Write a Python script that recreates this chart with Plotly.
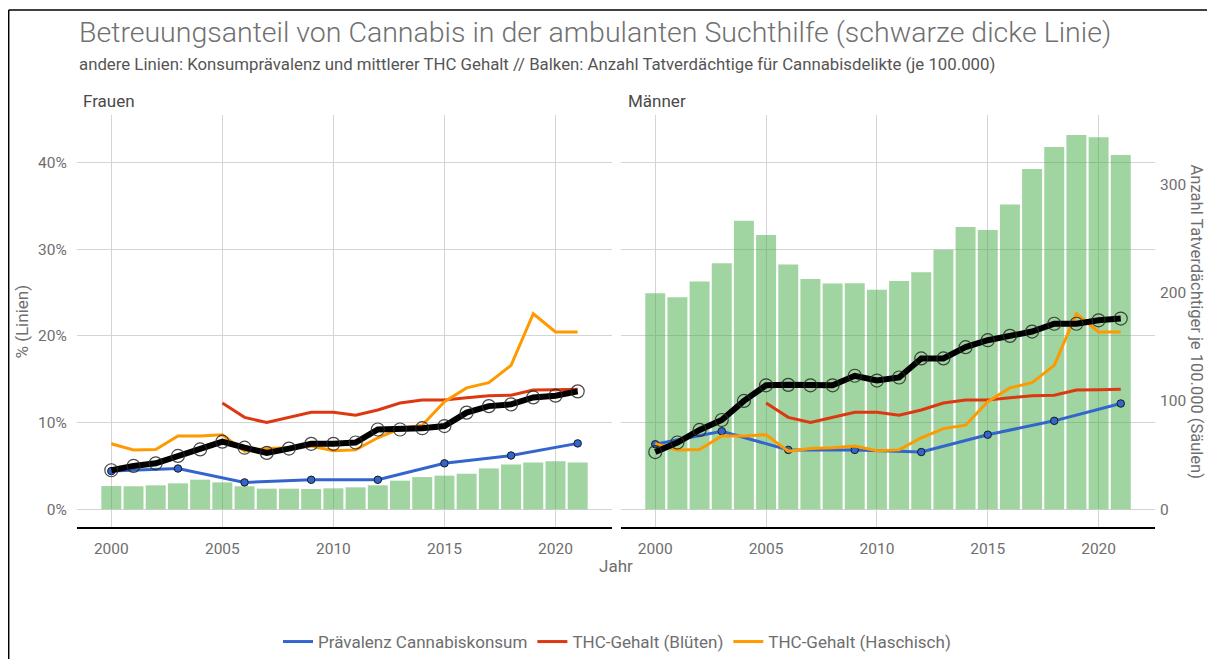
import plotly.graph_objects as go

# ---------------- data ----------------
years = list(range(2000, 2022))
survey_years = [2000, 2003, 2006, 2009, 2012, 2015, 2018, 2021]
blueten_years = list(range(2005, 2022))

betreuung_frauen = [4.5, 5.0, 5.3, 6.15, 6.9, 7.8, 7.1, 6.5, 7.0, 7.55, 7.55, 7.7,
                    9.2, 9.2, 9.35, 9.6, 11.15, 11.9, 12.1, 12.9, 13.1, 13.6]
betreuung_maenner = [6.6, 7.7, 9.15, 10.3, 12.5, 14.3, 14.35, 14.3, 14.3, 15.4, 14.85, 15.2,
                     17.4, 17.4, 18.7, 19.5, 20.0, 20.5, 21.4, 21.4, 21.8, 22.0]

praevalenz_frauen = [4.4, 4.7, 3.1, 3.4, 3.4, 5.3, 6.2, 7.6]
praevalenz_maenner = [7.5, 9.0, 6.85, 6.85, 6.6, 8.6, 10.2, 12.2]

thc_haschisch = [7.55, 6.85, 6.9, 8.45, 8.45, 8.6, 6.7, 7.0, 7.1, 7.3, 6.75, 6.85,
                 8.25, 9.3, 9.7, 12.4, 14.0, 14.6, 16.6, 22.55, 20.45, 20.45]
thc_blueten = [12.25, 10.6, 10.0, 10.6, 11.2, 11.2, 10.85, 11.45, 12.25, 12.6, 12.6,
               12.85, 13.1, 13.15, 13.75, 13.8, 13.85]

tatverd_frauen = [21.4, 21.2, 22.1, 23.9, 27.3, 24.8, 21.2, 19.0, 19.0, 18.7, 19.3, 20.2,
                  22.1, 26.4, 29.7, 31.0, 32.8, 37.7, 41.4, 43.2, 44.2, 43.2]
tatverd_maenner = [199.4, 195.7, 210.1, 227.0, 266.3, 253.1, 225.8, 212.6, 208.3, 208.6,
                   202.5, 210.7, 218.7, 239.6, 260.4, 257.7, 281.3, 314.1, 334.4, 345.4,
                   343.3, 327.0]

pct_ticks = [0, 10, 20, 30, 40]
pct_labels = ["0%", "10%", "20%", "30%", "40%"]
count_ticks = [0, 100, 200, 300]
year_ticks = [2000, 2005, 2010, 2015, 2020]

# ---------------- style ----------------
# the page has an 8px body margin, so the figure starts at (8, 8) of the window
OFF = 8
W, H = 1215 - 2 * OFF, 668 - 2 * OFF
BLUE, RED, ORANGE = "#3366CC", "#DC3912", "#FF9900"
BAR = "rgba(65,169,65,0.5)"
GRID = "#d4d4d4"
TXT = "#6e6e6e"
FONT = "Roboto"

pct_range = [-2.07, 45.5]
cnt_range = [v * 8 for v in pct_range]
x_range = [1998.455, 2022.545]

def px(x):
    return (x - OFF) / W

def py(y):
    return 1 - (y - OFF) / H

fig = go.Figure()

panels = [
    dict(x="x", ybar="y", yline="y2", bars=tatverd_frauen, betr=betreuung_frauen,
         prae=praevalenz_frauen, legend=True),
    dict(x="x2", ybar="y3", yline="y4", bars=tatverd_maenner, betr=betreuung_maenner,
         prae=praevalenz_maenner, legend=False),
]

for p in panels:
    fig.add_trace(go.Bar(x=years, y=p["bars"], xaxis=p["x"], yaxis=p["ybar"],
                         marker=dict(color=BAR, line=dict(width=0)),
                         showlegend=False, hoverinfo="skip"))
    fig.add_trace(go.Scatter(x=survey_years, y=p["prae"], xaxis=p["x"], yaxis=p["yline"],
                             mode="lines", line=dict(color=BLUE, width=3),
                             name="Prävalenz Cannabiskonsum", legendgroup="b",
                             showlegend=p["legend"]))
    fig.add_trace(go.Scatter(x=survey_years, y=p["prae"], xaxis=p["x"], yaxis=p["yline"],
                             mode="markers",
                             marker=dict(color=BLUE, size=7.5, line=dict(color="#1a1a1a", width=1)),
                             showlegend=False, legendgroup="b"))
    fig.add_trace(go.Scatter(x=blueten_years, y=thc_blueten, xaxis=p["x"], yaxis=p["yline"],
                             mode="lines", line=dict(color=RED, width=3),
                             name="THC-Gehalt (Blüten)", legendgroup="r",
                             showlegend=p["legend"]))
    fig.add_trace(go.Scatter(x=years, y=thc_haschisch, xaxis=p["x"], yaxis=p["yline"],
                             mode="lines", line=dict(color=ORANGE, width=3),
                             name="THC-Gehalt (Haschisch)", legendgroup="o",
                             showlegend=p["legend"]))
    fig.add_trace(go.Scatter(x=years, y=p["betr"], xaxis=p["x"], yaxis=p["yline"],
                             mode="lines", line=dict(color="black", width=6),
                             showlegend=False))
    fig.add_trace(go.Scatter(x=years, y=p["betr"], xaxis=p["x"], yaxis=p["yline"],
                             mode="markers",
                             marker=dict(symbol="circle-open", size=13,
                                         color="rgba(40,40,40,0.85)", line=dict(width=1.2)),
                             showlegend=False))

xa_common = dict(range=x_range, tickvals=year_ticks, showgrid=True, gridcolor=GRID,
                 gridwidth=1.3, zeroline=False, showline=True, linecolor="black",
                 linewidth=2, ticks="outside", ticklen=6, tickcolor="rgba(0,0,0,0)",
                 tickfont=dict(family=FONT, size=15.5, color=TXT))
ydom = [py(528), py(115)]

fig.update_layout(
    width=W, height=H, autosize=False,
    margin=dict(l=0, r=0, t=0, b=0),
    paper_bgcolor="white", plot_bgcolor="rgba(0,0,0,0)",
    bargap=0.1,
    font=dict(family=FONT, color=TXT),
    xaxis=dict(domain=[px(77), px(612)], anchor="y", **xa_common),
    xaxis2=dict(domain=[px(621), px(1155)], anchor="y3", **xa_common),
    yaxis=dict(domain=ydom, anchor="x", range=cnt_range, visible=False),
    yaxis2=dict(domain=ydom, anchor="x", overlaying="y", side="left", range=pct_range,
                tickvals=pct_ticks, ticktext=pct_labels, showgrid=True, gridcolor=GRID,
                gridwidth=1.3, zeroline=False, ticks="outside", ticklen=6,
                tickcolor="rgba(0,0,0,0)",
                tickfont=dict(family=FONT, size=15.5, color=TXT)),
    yaxis3=dict(domain=ydom, anchor="x2", side="right", range=cnt_range,
                tickvals=count_ticks, showgrid=False, zeroline=False, ticks="outside",
                ticklen=1, tickcolor="rgba(0,0,0,0)",
                tickfont=dict(family=FONT, size=15.5, color=TXT)),
    yaxis4=dict(domain=ydom, anchor="x2", overlaying="y3", side="left", range=pct_range,
                tickvals=pct_ticks, showticklabels=False, showgrid=True, gridcolor=GRID,
                gridwidth=1.3, zeroline=False),
    legend=dict(orientation="h", x=px(617), xanchor="center", y=py(643), yanchor="middle",
                font=dict(family=FONT, size=17, color=TXT), itemwidth=30,
                bgcolor="rgba(0,0,0,0)"),
)

ann = [
    dict(text="Betreuungsanteil von Cannabis in der ambulanten Suchthilfe (schwarze dicke Linie)",
         x=px(77), y=py(33), xanchor="left", yanchor="middle",
         font=dict(family=FONT, size=28.5, color="#707070", weight=300)),
    dict(text="andere Linien: Konsumprävalenz und mittlerer THC Gehalt // Balken: Anzahl Tatverdächtige für Cannabisdelikte (je 100.000)",
         x=px(77), y=py(64), xanchor="left", yanchor="middle",
         font=dict(family=FONT, size=16.8, color="#555555")),
    dict(text="Frauen", x=px(81), y=py(101), xanchor="left", yanchor="middle",
         font=dict(family=FONT, size=17, color="#4a4a4a")),
    dict(text="Männer", x=px(626), y=py(101), xanchor="left", yanchor="middle",
         font=dict(family=FONT, size=17, color="#4a4a4a")),
    dict(text="Jahr", x=px(616), y=py(567), xanchor="center", yanchor="middle",
         font=dict(family=FONT, size=17, color=TXT)),
    dict(text="% (Linien)", x=px(22), y=py(322), xanchor="center", yanchor="middle",
         textangle=-90, font=dict(family=FONT, size=17, color=TXT)),
    dict(text="Anzahl Tatverdächtiger je 100.000 (Säulen)", x=px(1196), y=py(322),
         xanchor="center", yanchor="middle", textangle=90,
         font=dict(family=FONT, size=16.5, color=TXT)),
]
for a in ann:
    a.update(xref="paper", yref="paper", showarrow=False)
fig.update_layout(annotations=ann)

# frame lines of the screenshot
fig.update_layout(shapes=[
    dict(type="line", xref="paper", yref="paper", x0=px(8.7), x1=px(8.7), y0=0, y1=py(10),
         line=dict(color="black", width=1.5)),
    dict(type="line", xref="paper", yref="paper", x0=px(8.7), x1=1, y0=py(10), y1=py(10),
         line=dict(color="black", width=1.5)),
])

fig.write_html("out.html")
